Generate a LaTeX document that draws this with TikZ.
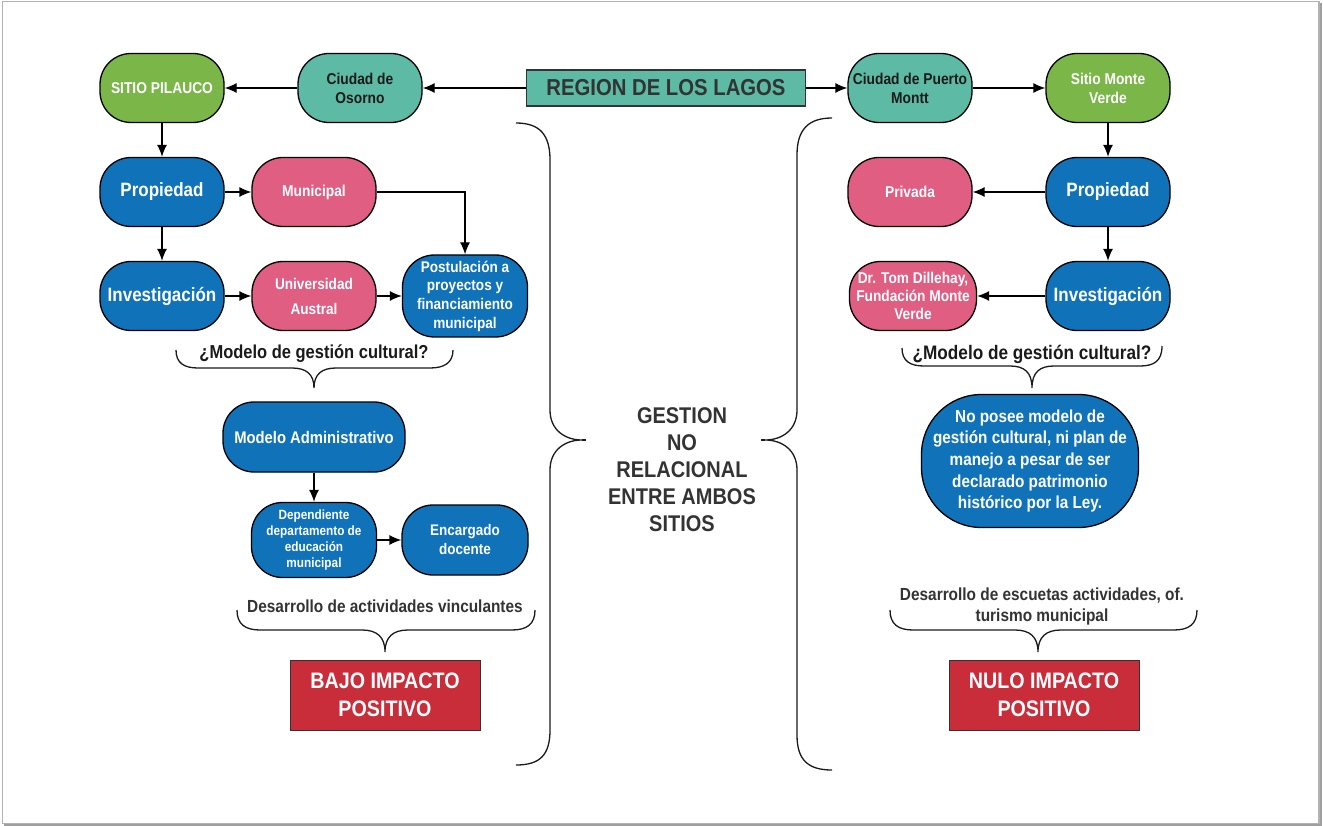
\documentclass[tikz,border=0pt]{standalone}
\usepackage{fontspec}
\setmainfont{Liberation Sans}[FakeStretch=0.88]
\usetikzlibrary{arrows.meta}
\definecolor{cgreen}{HTML}{7AB648}
\definecolor{cteal}{HTML}{5CBAA5}
\definecolor{cblue}{HTML}{1072B8}
\definecolor{cpink}{HTML}{DF5E82}
\definecolor{cred}{HTML}{C92D39}
\definecolor{ctext}{HTML}{333333}
\definecolor{cdark}{HTML}{1A1A1A}
\newcommand{\myfs}[2]{\fontsize{\fpeval{#1*1.136}}{#2}\selectfont}
\begin{document}
\begin{tikzpicture}[x=1pt,y=-1pt,
  pill/.style={draw=black, line width=1.3pt, rounded corners=31pt, minimum width=124pt, minimum height=69pt, align=center, inner sep=0pt, font=\bfseries\myfs{13.8}{19}},
  bluepill/.style={pill, fill=cblue, text=white},
  pinkpill/.style={pill, fill=cpink, text=white},
  greenpill/.style={pill, fill=cgreen, text=white},
  tealpill/.style={pill, fill=cteal, text=cdark},
  bigtxt/.style={font=\bfseries\myfs{17}{20}},
  redbox/.style={draw=ctext, line width=1pt, fill=cred, text=white, minimum width=190pt, minimum height=70pt, align=center, inner sep=0pt, font=\bfseries\myfs{19.7}{28}},
  lbl/.style={align=center, inner sep=0pt, font=\bfseries},
  arr/.style={line width=1.3pt, -{Latex[length=12pt,width=10pt]}},
  brc/.style={line width=1.3pt, draw=cdark}
]
\useasboundingbox (0,0) rectangle (1323,826);
% frame
\draw[gray!60, line width=1.2pt] (2.5,1.5) rectangle (1319,823.5);
\draw[gray!75, line width=2pt] (1320.5,3) -- (1320.5,825) -- (4,825);

% top row
\node[greenpill] (pil) at (162,88) {SITIO PILAUCO};
\node[tealpill] (oso) at (360,88) {Ciudad de\\Osorno};
\node[draw=ctext, line width=1.4pt, fill=cteal, minimum width=279pt, minimum height=36pt, inner sep=0pt, text=ctext, font=\bfseries\myfs{20.3}{24}] (reg) at (666,88) {REGION DE LOS LAGOS};
\node[tealpill] (pm) at (910,88) {Ciudad de Puerto\\Montt};
\node[greenpill] (mv) at (1108,88) {Sitio Monte\\Verde};

% second row
\node[bluepill, bigtxt] (prop1) at (162,192) {Propiedad};
\node[pinkpill] (mun) at (314,192) {Municipal};
\node[pinkpill] (priv) at (910,192) {Privada};
\node[bluepill, bigtxt] (prop2) at (1108,192) {Propiedad};

% third row
\node[bluepill, bigtxt] (inv1) at (162,296) {Investigación};
\node[pinkpill, font=\bfseries\myfs{13.6}{25}] (uni) at (314,296) {Universidad\\Austral};
\node[bluepill, minimum width=125pt, minimum height=82pt, rounded corners=32pt, font=\bfseries\myfs{13.6}{18.7}] (post) at (465,296) {Postulación a\\proyectos y\\financiamiento\\municipal};
\node[pinkpill, minimum width=127pt, font=\bfseries\myfs{13.7}{18}] (dil) at (913,296) {Dr. Tom Dillehay,\\Fundación Monte\\Verde};
\node[bluepill, bigtxt] (inv2) at (1108,296) {Investigación};

% left lower part
\node[lbl, text=cdark, font=\bfseries\myfs{16.5}{20}] (q1) at (314,354) {¿Modelo de gestión cultural?};
\node[bluepill, minimum width=182pt, minimum height=70pt, font=\bfseries\myfs{14.8}{18}] (madm) at (314,437) {Modelo Administrativo};
\node[bluepill, minimum width=125pt, minimum height=75pt, font=\bfseries\myfs{11.8}{16}] (dep) at (314,540) {Dependiente\\departamento de\\educación\\municipal};
\node[bluepill, minimum width=126pt, minimum height=70pt, font=\bfseries\myfs{13.5}{19}] (enc) at (465,540) {Encargado\\docente};
\node[lbl, text=ctext, font=\bfseries\myfs{15.4}{21}] (des1) at (385,606) {Desarrollo de actividades vinculantes};
\node[redbox] (bajo) at (385,695) {BAJO IMPACTO\\POSITIVO};

% right lower part
\node[lbl, text=cdark, font=\bfseries\myfs{17.2}{20}] (q2) at (1032,354) {¿Modelo de gestión cultural?};
\node[bluepill, minimum width=217pt, minimum height=133pt, rounded corners=60pt, font=\bfseries\myfs{15.3}{21.7}] (nop) at (1030,461) {No posee modelo de\\gestión cultural, ni plan de\\manejo a pesar de ser\\declarado patrimonio\\histórico por la Ley.};
\node[lbl, text=ctext, font=\bfseries\myfs{15.4}{21}] (des2) at (1042,606) {Desarrollo de escuetas actividades, of.\\turismo municipal};
\node[redbox] (nulo) at (1044,695) {NULO IMPACTO\\POSITIVO};

% center text
\node[lbl, text=ctext, font=\bfseries\myfs{20}{27}] (gest) at (682,470) {GESTION\\NO\\RELACIONAL\\ENTRE AMBOS\\SITIOS};

% arrows
\draw[arr] (reg) -- (oso);
\draw[arr] (oso) -- (pil);
\draw[arr] (reg) -- (pm);
\draw[arr] (pm) -- (mv);
\draw[arr] (pil) -- (prop1);
\draw[arr] (prop1) -- (inv1);
\draw[arr] (prop1) -- (mun);
\draw[arr] (mun.east) -| (post.north);
\draw[arr] (inv1) -- (uni);
\draw[arr] (uni) -- (post);
\draw[arr] (mv) -- (prop2);
\draw[arr] (prop2) -- (inv2);
\draw[arr] (prop2) -- (priv);
\draw[arr] (inv2) -- (dil);
\draw[arr] (madm) -- (dep);
\draw[arr] (dep) -- (enc);

% big braces
\draw[brc] (516,123) .. controls (540,123) and (550,135) .. (550,160) -- (550,410)
  .. controls (550,430) and (565,440) .. (582,440)
  .. controls (565,440) and (550,450) .. (550,470) -- (550,730)
  .. controls (550,755) and (540,765) .. (516,765);
\draw[brc] (582,440) -- (586,440);
\draw[brc] (832,118) .. controls (808,118) and (797,130) .. (797,155) -- (797,410)
  .. controls (797,430) and (782,440) .. (765,440)
  .. controls (782,440) and (797,450) .. (797,470) -- (797,735)
  .. controls (797,760) and (808,770) .. (832,770);
\draw[brc] (765,440) -- (761,440);

% small braces
\draw[brc] (176,350) .. controls (176,363) and (184,368) .. (198,368) -- (292,368)
  .. controls (306,368) and (314,374) .. (314,388)
  .. controls (314,374) and (322,368) .. (336,368) -- (430,368)
  .. controls (444,368) and (453,363) .. (453,350);
\draw[brc] (902,348) .. controls (902,361) and (910,366) .. (924,366) -- (1010,366)
  .. controls (1024,366) and (1032,372) .. (1032,388)
  .. controls (1032,372) and (1040,366) .. (1054,366) -- (1140,366)
  .. controls (1154,366) and (1162,361) .. (1162,346);
\draw[brc] (237,610) .. controls (237,624) and (245,630) .. (260,630) -- (362,630)
  .. controls (377,630) and (385,637) .. (385,652)
  .. controls (385,637) and (393,630) .. (408,630) -- (512,630)
  .. controls (527,630) and (535,624) .. (535,610);
\draw[brc] (890,610) .. controls (890,624) and (898,630) .. (913,630) -- (1015,630)
  .. controls (1030,630) and (1038,637) .. (1038,652)
  .. controls (1038,637) and (1046,630) .. (1061,630) -- (1174,630)
  .. controls (1189,630) and (1197,624) .. (1197,610);
\end{tikzpicture}
\end{document}
